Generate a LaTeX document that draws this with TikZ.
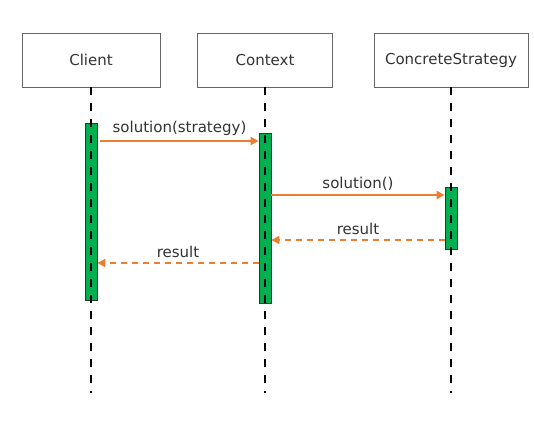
\documentclass[tikz,border=0pt]{standalone}
\usepackage{fontspec}
\setmainfont{DejaVu Sans}
\usetikzlibrary{arrows.meta}
\definecolor{actgreen}{RGB}{0,176,80}
\definecolor{msgorange}{RGB}{237,125,49}
\begin{document}
\begin{tikzpicture}[x=1pt,y=-1pt,
  objbox/.style={draw=black!60, line width=0.8pt, fill=white, minimum height=54pt, inner sep=0pt, font=\fontsize{15}{18}\selectfont, text=black!80},
  lifeline/.style={draw=black, line width=2.2pt, dash pattern=on 8pt off 8pt},
  actbox/.style={draw=black!80, fill=actgreen, line width=0.8pt, minimum width=12pt, inner sep=0pt},
  msg/.style={draw=msgorange, line width=2pt, -{Triangle[length=8pt,width=8pt]}},
  ret/.style={msg, dash pattern=on 6pt off 5pt},
  lbl/.style={font=\fontsize{15}{18}\selectfont, text=black!80, inner sep=1pt}]
\useasboundingbox (0,0) rectangle (534,436);
\fill[white] (0,0) rectangle (534,436);
% objects
\node[objbox, minimum width=138pt] (client) at (91,60) {Client};
\node[objbox, minimum width=135pt] (context) at (265,60) {Context};
\node[objbox, minimum width=154pt] (cs) at (451,60) {ConcreteStrategy};
% lifeline ends
\coordinate (clientend) at (91,393);
\coordinate (contextend) at (265,393);
\coordinate (csend) at (451,393);
% activations
\node[actbox, minimum height=177pt] (aclient) at (91,211.5) {};
\node[actbox, minimum height=170pt] (acontext) at (265,218) {};
\node[actbox, minimum height=62pt] (acs) at (451,218) {};
% lifelines
\draw[lifeline] (client.south) -- (clientend);
\draw[lifeline] (context.south) -- (contextend);
\draw[lifeline] (cs.south) -- (csend);
% messages
\draw[msg] ([xshift=3pt]aclient.east |- 0,141) -- (acontext.west |- 0,141)
  node[lbl, midway, above=3pt] {solution(strategy)};
\draw[msg] (acontext.east |- 0,195) -- (acs.west |- 0,195)
  node[lbl, midway, above=3pt] {solution()};
\draw[ret] (acs.west |- 0,240) -- (acontext.east |- 0,240)
  node[lbl, midway, above=3pt] {result};
\draw[ret] (acontext.west |- 0,263) -- (aclient.east |- 0,263)
  node[lbl, midway, above=3pt] {result};
\end{tikzpicture}
\end{document}
